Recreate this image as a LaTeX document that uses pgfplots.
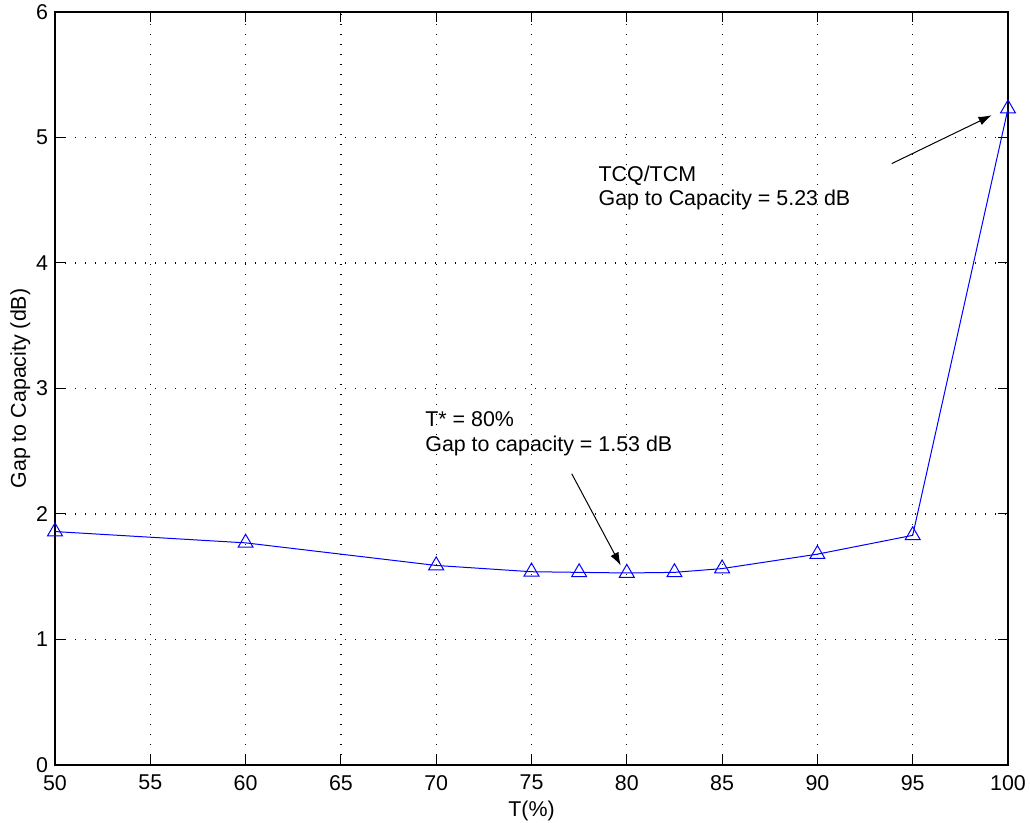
\documentclass[border=0pt]{standalone}
\usepackage{fontspec}
\setmainfont{Liberation Sans}
\usepackage{pgfplots}
\pgfplotsset{compat=1.18}
\usetikzlibrary{arrows.meta}
\begin{document}
\begin{tikzpicture}
\begin{axis}[
  scale only axis,
  width=476.5pt, height=376.5pt,
  xmin=50, xmax=100, ymin=0, ymax=6,
  xtick={50,55,...,100}, ytick={0,1,2,3,4,5,6},
  grid=major,
  major grid style={black, line width=0.6pt, dash pattern=on 0.6pt off 4.4pt},
  tick align=inside, tick pos=both, major tick length=5pt,
  axis line style={black, line width=0.8pt},
  tick style={black, line width=0.5pt},
  font=\fontsize{10.7}{12}\selectfont,
  /pgf/number format/assume math mode=true,
  xticklabel style={yshift=-1.5pt},
  xlabel={T(\%)}, ylabel={Gap to Capacity (dB)},
  xlabel style={yshift=1.5pt},
  ylabel style={yshift=-4pt},
  clip=false,
]
\addplot[blue, line width=0.5pt, mark=triangle, mark size=4.3pt, mark options={solid, fill=none}]
  coordinates {
  (50,1.86) (60,1.77) (70,1.59) (75,1.54) (77.5,1.535) (80,1.53)
  (82.5,1.535) (85,1.565) (90,1.68) (95,1.83) (100,5.23)
  };
\draw[-{Latex[length=6.5pt,width=4.5pt]}, black, line width=0.5pt]
  (axis cs:77.11,2.321) -- (axis cs:79.68,1.590);
\draw[-{Latex[length=6.5pt,width=4.5pt]}, black, line width=0.5pt]
  (axis cs:93.90,4.792) -- (axis cs:99.14,5.177);
\node[anchor=base west, inner sep=0pt, font=\fontsize{10.7}{12}\selectfont] at (axis cs:69.41,2.694) {T* = 80\%};
\node[anchor=base west, inner sep=0pt, font=\fontsize{10.7}{12}\selectfont] at (axis cs:69.41,2.498) {Gap to capacity = 1.53 dB};
\node[anchor=base west, inner sep=0pt, font=\fontsize{10.7}{12}\selectfont] at (axis cs:78.50,4.651) {TCQ/TCM};
\node[anchor=base west, inner sep=0pt, font=\fontsize{10.7}{12}\selectfont] at (axis cs:78.50,4.459) {Gap to Capacity = 5.23 dB};
\coordinate (bl) at (rel axis cs:0,0);
\coordinate (tr) at (rel axis cs:1,1);
\end{axis}
\pgfresetboundingbox
\path ([shift={(-27.5pt,-28.5pt)}]bl) rectangle ([shift={(11pt,6pt)}]tr);
\end{tikzpicture}
\end{document}
